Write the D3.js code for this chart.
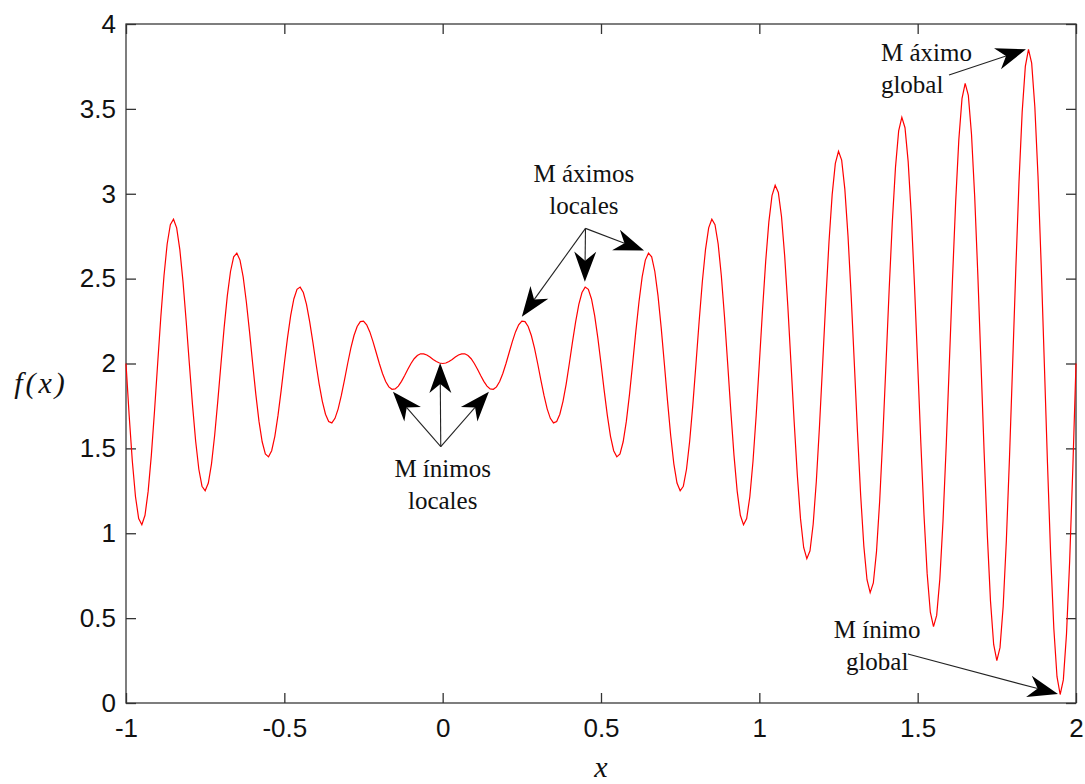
<!DOCTYPE html>
<meta charset="utf-8">
<style>

body {
    margin: 0;
    background: #fff;
}

.tick-label text {
    font-family: "Liberation Sans", Arial, sans-serif;
    font-size: 26px;
    fill: #111;
}

.note {
    font-family: "Liberation Serif", "Times New Roman", serif;
    font-size: 25px;
    fill: #111;
}

.math {
    font-family: "Liberation Serif", "Times New Roman", serif;
    font-style: italic;
    font-size: 30px;
    fill: #111;
}

</style>
<svg width="1085" height="784"></svg>
<script src="https://d3js.org/d3.v7.min.js"></script>
<script>

// f(x) sampled every 0.01 from x = -1 to x = 2
var xStart = -1,
    xStep = 0.01;

var fValues = [
    2.000,1.694,1.424,1.215,1.087,1.050,1.106,1.248,1.459,1.719,2.000,2.275,2.517,2.704,2.818,2.850,2.799,2.671,2.482,2.250,
    2.000,1.756,1.542,1.377,1.277,1.250,1.296,1.409,1.577,1.781,2.000,2.213,2.400,2.542,2.628,2.650,2.609,2.510,2.364,2.189,
    2.000,1.818,1.659,1.539,1.467,1.450,1.486,1.571,1.694,1.842,2.000,2.151,2.282,2.380,2.437,2.450,2.418,2.348,2.247,2.127,
    2.000,1.879,1.777,1.701,1.658,1.650,1.677,1.733,1.812,1.904,2.000,2.090,2.165,2.218,2.247,2.250,2.228,2.186,2.129,2.065,
    2.000,1.941,1.894,1.862,1.848,1.850,1.867,1.895,1.929,1.966,2.000,2.028,2.047,2.057,2.057,2.050,2.038,2.024,2.012,2.003,
    2.000,2.003,2.012,2.024,2.038,2.050,2.057,2.057,2.047,2.028,2.000,1.966,1.929,1.895,1.867,1.850,1.848,1.862,1.894,1.941,
    2.000,2.065,2.129,2.186,2.228,2.250,2.247,2.218,2.165,2.090,2.000,1.904,1.812,1.733,1.677,1.650,1.658,1.701,1.777,1.879,
    2.000,2.127,2.247,2.348,2.418,2.450,2.437,2.380,2.282,2.151,2.000,1.842,1.694,1.571,1.486,1.450,1.467,1.539,1.659,1.818,
    2.000,2.189,2.364,2.510,2.609,2.650,2.628,2.542,2.400,2.213,2.000,1.781,1.577,1.409,1.296,1.250,1.277,1.377,1.542,1.756,
    2.000,2.250,2.482,2.671,2.799,2.850,2.818,2.704,2.517,2.275,2.000,1.719,1.459,1.248,1.106,1.050,1.087,1.215,1.424,1.694,
    2.000,2.312,2.600,2.833,2.989,3.050,3.008,2.866,2.635,2.337,2.000,1.657,1.342,1.086,0.916,0.850,0.897,1.053,1.306,1.632,
    2.000,2.374,2.717,2.995,3.179,3.250,3.198,3.027,2.752,2.399,2.000,1.595,1.224,0.924,0.726,0.650,0.707,0.892,1.189,1.570,
    2.000,2.436,2.835,3.157,3.370,3.450,3.389,3.189,2.870,2.460,2.000,1.533,1.107,0.762,0.535,0.450,0.516,0.730,1.071,1.509,
    2.000,2.498,2.952,3.319,3.560,3.650,3.579,3.351,2.987,2.522,2.000,1.472,0.989,0.600,0.345,0.250,0.326,0.568,0.954,1.447,
    2.000,2.559,3.070,3.481,3.750,3.850,3.769,3.513,3.105,2.584,2.000,1.410,0.871,0.439,0.155,0.050,0.136,0.406,0.836,1.385,
    2.000
];

var xTicks = [-1, -0.5, 0, 0.5, 1, 1.5, 2];
var xTickLabels = ["-1", "-0.5", "0", "0.5", "1", "1.5", "2"];
var yTicks = [0, 0.5, 1, 1.5, 2, 2.5, 3, 3.5, 4];
var yTickLabels = ["0", "0.5", "1", "1.5", "2", "2.5", "3", "3.5", "4"];

// annotations: label lines, text anchor (data units), arrow tail and tips (data units)
var notes = [
    {lines: ["M ínimos", "locales"], at: [0.0, 1.331], anchor: "middle", tail: [-0.006, 1.51],
     tips: [[-0.157, 1.834], [-0.008, 2.003], [0.146, 1.834]]},
    {lines: ["M áximos", "locales"], at: [0.446, 3.071], anchor: "middle", tail: [0.451, 2.796],
     tips: [[0.250, 2.276], [0.449, 2.482], [0.636, 2.665]]},
    {lines: ["M áximo", "global"], at: [1.384, 3.784], anchor: "start", tail: [1.599, 3.70],
     tips: [[1.842, 3.851]]},
    {lines: ["M ínimo", "global"], at: [1.372, 0.383], anchor: "middle", tail: [1.469, 0.289],
     tips: [[1.943, 0.053]]}
];

var svg = d3.select("svg"),
    margin = {top: 24, right: 9, bottom: 81, left: 126},
    width = +svg.attr("width") - margin.left - margin.right,
    height = +svg.attr("height") - margin.top - margin.bottom;

var x = d3.scaleLinear().domain([-1, 2]).range([margin.left, margin.left + width]),
    y = d3.scaleLinear().domain([0, 4]).range([margin.top + height, margin.top]);

var data = fValues.map(function(v, i) { return {x: xStart + i * xStep, y: v}; });

// box
svg.append("rect")
    .attr("x", x(-1))
    .attr("y", y(4))
    .attr("width", width)
    .attr("height", height)
    .attr("fill", "none")
    .attr("stroke", "#3a3a3a")
    .attr("stroke-width", 1.3);

function styleAxis(g) {
    g.select(".domain").remove();
    g.selectAll(".tick line").attr("stroke", "#333").attr("stroke-width", 1.3);
}

svg.append("g")
    .attr("class", "tick-label")
    .attr("transform", "translate(0," + y(0) + ")")
    .call(d3.axisBottom(x).tickValues(xTicks).tickSize(-10).tickPadding(16)
        .tickFormat(function(d, i) { return xTickLabels[i]; }))
    .call(styleAxis);

svg.append("g")
    .attr("transform", "translate(0," + y(4) + ")")
    .call(d3.axisTop(x).tickValues(xTicks).tickSize(-10).tickFormat(""))
    .call(styleAxis);

svg.append("g")
    .attr("class", "tick-label")
    .attr("transform", "translate(" + x(-1) + ",0)")
    .call(d3.axisLeft(y).tickValues(yTicks).tickSize(-10).tickPadding(10)
        .tickFormat(function(d, i) { return yTickLabels[i]; }))
    .call(styleAxis);

svg.append("g")
    .attr("transform", "translate(" + x(2) + ",0)")
    .call(d3.axisRight(y).tickValues(yTicks).tickSize(-10).tickFormat(""))
    .call(styleAxis);

svg.selectAll(".tick-label text").attr("font-family", null).attr("font-size", null);

// curve
var line = d3.line()
    .x(function(d) { return x(d.x); })
    .y(function(d) { return y(d.y); });

svg.append("path")
    .datum(data)
    .attr("fill", "none")
    .attr("stroke", "#ff0000")
    .attr("stroke-width", 1.2)
    .attr("d", line);

// axis labels
svg.append("text")
    .attr("class", "math")
    .attr("x", 41)
    .attr("y", 393)
    .attr("text-anchor", "middle")
    .style("letter-spacing", "3px")
    .text("f(x)");

svg.append("text")
    .attr("class", "math")
    .attr("x", (x(-1) + x(2)) / 2)
    .attr("y", 777)
    .attr("text-anchor", "middle")
    .text("x");

// annotations
var headLen = 30, headHalf = 11, notch = 21;

notes.forEach(function(n) {
    var tx = x(n.tail[0]), ty = y(n.tail[1]);

    n.tips.forEach(function(t) {
        var px = x(t[0]), py = y(t[1]);
        var ang = Math.atan2(py - ty, px - tx);
        var bx = px - notch * Math.cos(ang), by = py - notch * Math.sin(ang);

        svg.append("line")
            .attr("x1", tx).attr("y1", ty)
            .attr("x2", bx).attr("y2", by)
            .attr("stroke", "#222")
            .attr("stroke-width", 1.1);

        svg.append("path")
            .attr("transform", "translate(" + px + "," + py + ") rotate(" + (ang * 180 / Math.PI) + ")")
            .attr("d", "M0,0L" + (-headLen) + "," + (-headHalf) + "L" + (-notch) + ",0L" + (-headLen) + "," + headHalf + "Z")
            .attr("fill", "#000");
    });

    var t = svg.append("text")
        .attr("class", "note")
        .attr("text-anchor", n.anchor)
        .attr("x", x(n.at[0]))
        .attr("y", y(n.at[1]));

    n.lines.forEach(function(s, i) {
        t.append("tspan")
            .attr("x", x(n.at[0]))
            .attr("dy", i === 0 ? 0 : 32)
            .text(s);
    });
});

</script>
